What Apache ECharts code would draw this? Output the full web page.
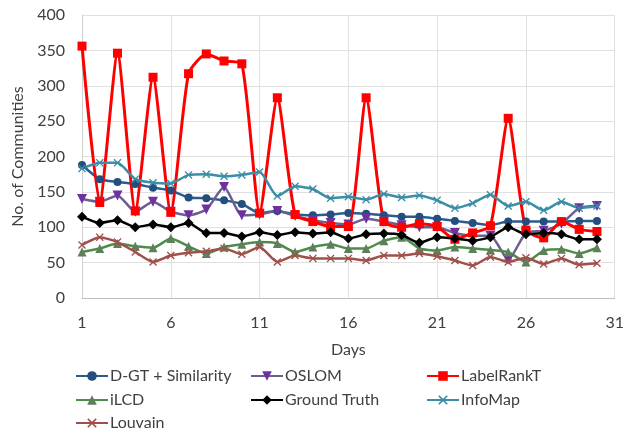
<!DOCTYPE html>
<html><head><meta charset="utf-8">
<script src="https://cdn.jsdelivr.net/npm/echarts@6/dist/echarts.min.js"></script>
<style>html,body{margin:0;padding:0;background:#fff}#c{width:627px;height:436px}</style>
</head><body><div id="c"></div>
<script>
const days = ['1','2','3','4','5','6','7','8','9','10','11','12','13','14','15','16','17','18','19','20','21','22','23','24','25','26','27','28','29','30','31'];
const yTicks = [0, 400, 50];
const dgtSimilarity = [188,168,164,161,156,152,142,141,138,133,120,123,118,117,118,120,119,117,115,115,112,109,106,103,108,108,108,108,109,109];
const oslom = [140,136,145,122,136,122,117,125,157,117,118,123,116,110,106,104,112,108,103,100,100,92,88,88,54,92,95,105,127,130];
const labelRankT = [356,135,346,123,312,121,317,345,335,331,120,283,118,108,101,101,283,108,100,105,101,83,92,102,254,96,85,108,97,94];
const ilcd = [65,70,77,73,71,84,73,63,72,76,79,77,65,72,76,70,70,81,86,70,67,72,70,68,65,51,67,69,63,71];
const groundTruth = [115,106,110,100,104,100,106,92,92,87,93,89,93,91,93,84,90,91,89,78,86,84,81,86,100,90,92,90,83,83];
const infoMap = [183,191,191,168,163,162,174,175,172,174,178,144,158,154,141,143,139,147,142,145,138,127,134,146,130,136,124,136,127,130];
const louvain = [75,86,79,65,51,60,64,66,70,62,72,51,60,56,56,56,53,60,60,63,59,53,46,58,51,57,48,56,47,49];

const xMark = 'path://M0,1.2L1.2,0L5,3.8L8.8,0L10,1.2L6.2,5L10,8.8L8.8,10L5,6.2L1.2,10L0,8.8L3.8,5Z';
const font = 'Lato, "Noto Sans", sans-serif';

function mk(name, data, color, markColor, symbol, size, width) {
  return {
    name, type: 'line', data, smooth: 0.2,
    symbol, symbolSize: size,
    lineStyle: {color, width: width || 2.5},
    itemStyle: {color: markColor, borderColor: markColor, borderWidth: 0},
    emphasis: {disabled: true}
  };
}

function lg(name, left, top) {
  return {
    data: [name], left, top, padding: 0,
    itemWidth: 32, itemHeight: 12,
    textStyle: {fontFamily: font, fontSize: 16, color: '#404040', padding: [0, 0, 0, -3]}
  };
}

const chart = echarts.init(document.getElementById('c'), null, {renderer: 'canvas'});
chart.setOption({
  animation: false,
  backgroundColor: '#fff',
  grid: {left: 82, right: 9, top: 15, bottom: 138},
  legend: [
    lg('D-GT + Similarity', 75, 368),
    lg('OSLOM', 250, 368),
    lg('LabelRankT', 426, 368),
    lg('iLCD', 75, 392),
    lg('Ground Truth', 250, 392),
    lg('InfoMap', 426, 392),
    lg('Louvain', 75, 415)
  ],
  xAxis: {
    type: 'category', data: days, boundaryGap: false,
    name: 'Days', nameLocation: 'middle', nameGap: 44,
    nameTextStyle: {fontFamily: font, fontSize: 16, color: '#404040'},
    axisLine: {lineStyle: {color: '#bfbfbf', width: 1}},
    axisTick: {show: false},
    axisLabel: {interval: 4, margin: 17, fontFamily: font, fontSize: 16, color: '#404040'},
    splitLine: {show: true, interval: 4, lineStyle: {color: '#e0e0e0', width: 1}}
  },
  yAxis: {
    type: 'value', min: yTicks[0], max: yTicks[1], interval: yTicks[2],
    name: 'No. of Communities', nameLocation: 'middle', nameGap: 51,
    nameTextStyle: {fontFamily: font, fontSize: 16, color: '#404040'},
    axisLine: {show: true, lineStyle: {color: '#d0d0d0'}},
    axisTick: {show: false},
    axisLabel: {margin: 17, fontFamily: font, fontSize: 16, color: '#404040'},
    splitLine: {lineStyle: {color: '#e0e0e0', width: 1}}
  },
  series: [
    mk('D-GT + Similarity', dgtSimilarity, '#2a5c8f', '#234e7e', 'circle', 8),
    mk('OSLOM', oslom, '#6a5f8e', '#7030a0', 'path://M0,0L10,0L5,10Z', 10),
    mk('LabelRankT', labelRankT, '#ff0000', '#ff0000', 'rect', 9, 3),
    mk('iLCD', ilcd, '#4e8c4a', '#5f7f5a', 'triangle', 9),
    mk('Ground Truth', groundTruth, '#000000', '#000000', 'diamond', 10),
    mk('InfoMap', infoMap, '#3a8ea6', '#3a8ea6', xMark, 8),
    mk('Louvain', louvain, '#a0504a', '#a0504a', xMark, 8)
  ]
});
</script></body></html>
